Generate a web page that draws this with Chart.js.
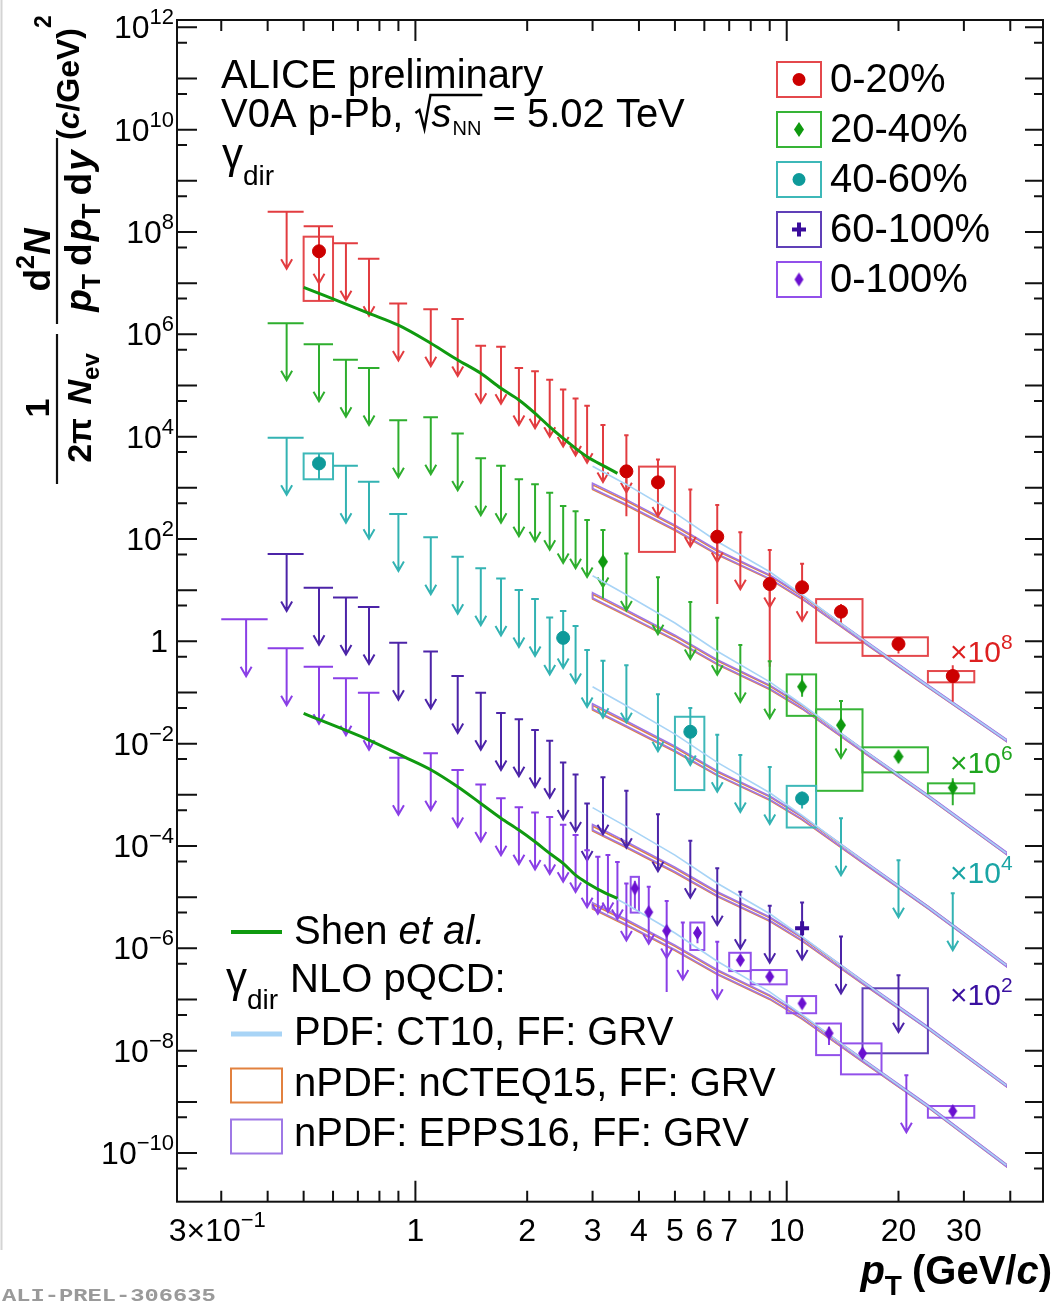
<!DOCTYPE html>
<html>
<head>
<meta charset="utf-8">
<title>ALICE preliminary - direct photon spectra, p-Pb 5.02 TeV</title>
<script src="https://cdn.jsdelivr.net/npm/chart.js@4.4.1/dist/chart.umd.min.js"></script>
<style>
html,body{margin:0;padding:0;background:#ffffff;}
canvas{display:block;}
</style>
</head>
<body>
<canvas id="c" width="1054" height="1307"></canvas>
<script>
// ================= DATA =================
// axis ranges and ticks
const xRange = [0.228, 49];
const yRange = [1.12e-11, 1.39e12];
const xMajorTicks = [1, 10];
const xMinorTicks = [0.3, 0.4, 0.5, 0.6, 0.7, 0.8, 0.9, 2, 3, 4, 5, 6, 7, 8, 9, 20, 30, 40];
const xTickLabelVals = [0.3, 1, 2, 3, 4, 5, 6, 7, 10, 20, 30];
const xTickLabels = ['3×10^−1', '1', '2', '3', '4', '5', '6', '7', '10', '20', '30'];
const yTickLabelExps = [12, 10, 8, 6, 4, 2, 0, -2, -4, -6, -8, -10];

const ulHalfWidth = 0.05; // x half-width of upper-limit caps (GeV/c)

// ---- 0-20% (x10^8) ----
const redUlPt  = [0.45, 0.55, 0.65, 0.75, 0.9, 1.1, 1.3, 1.5, 1.7, 1.9, 2.1, 2.3, 2.5, 2.7, 2.9, 3.2, 3.7, 4.5, 5.5, 6.5, 7.5, 9, 11];
const redUlVal = [2.5e8, 1.3e8, 6.0e7, 3.0e7, 4.0e6, 3.1e6, 2.0e6, 6.0e5, 5.7e5, 2.2e5, 1.9e5, 1.3e5, 8.4e4, 5.6e4, 4.0e4, 1.7e4, 1.07e4, 3.6e3, 930, 460, 135, 61, 33];
const redPt     = [0.55, 3.7, 4.5, 6.5, 9, 11, 14, 20, 28];
const redY      = [4.2e7, 2.1e3, 1.28e3, 111, 13.2, 11.4, 3.8, 0.89, 0.21];
const redStatLo = [4.5e6, 280, null, 5.4, 0.32, null, 2.3, 0.58, 0.066];
const redStatHi = [null, null, null, null, null, null, 5.4, 0.95, 0.34];
const redSysLo  = [4.5e6, null, 56, null, null, null, 0.94, 0.52, 0.158];
const redSysHi  = [8.1e7, null, 2.6e3, null, null, null, 6.7, 1.2, 0.263];
const redBinLo  = [0.5, null, 4, null, null, null, 12, 16, 24];
const redBinHi  = [0.6, null, 5, null, null, null, 16, 24, 32];

// ---- 20-40% (x10^6) ----
const greenUlPt  = [0.45, 0.55, 0.65, 0.75, 0.9, 1.1, 1.3, 1.5, 1.7, 1.9, 2.1, 2.3, 2.5, 2.7, 2.9, 3.2, 3.7, 4.5, 5.5, 6.5, 7.5, 9, 14];
const greenUlVal = [1.64e6, 6.4e5, 3.2e5, 2.2e5, 2.1e4, 2.4e4, 1.16e4, 3.8e3, 2.7e3, 1.47e3, 1.17e3, 800, 440, 350, 235, 150, 52, 17.8, 5.9, 2.9, 0.85, 0.41, 0.068];
const greenPt     = [3.2, 11, 14, 20, 28];
const greenY      = [36, 0.13, 0.023, 5.6e-3, 1.38e-3];
const greenStatLo = [6.9, 0.083, null, 4.6e-3, 6.3e-4];
const greenStatHi = [null, 0.22, null, 6.8e-3, 2.1e-3];
const greenSysLo  = [null, 0.035, 1.2e-3, 2.75e-3, 1.07e-3];
const greenSysHi  = [null, 0.226, 0.047, 8.5e-3, 1.68e-3];
const greenBinLo  = [null, 10, 12, 16, 24];
const greenBinHi  = [null, 12, 16, 24, 32];

// ---- 40-60% (x10^4) ----
const tealUlPt  = [0.45, 0.65, 0.75, 0.9, 1.1, 1.3, 1.5, 1.7, 1.9, 2.1, 2.3, 2.5, 2.7, 2.9, 3.2, 3.7, 4.5, 5.5, 6.5, 7.5, 9, 14, 20, 28];
const tealUlVal = [9.5e3, 2.7e3, 1.31e3, 307, 108, 45, 26.7, 17, 10.1, 6.7, 2.94, 3.9, 1.99, 0.68, 0.42, 0.34, 0.093, 0.05, 0.015, 6.0e-3, 3.5e-3, 3.5e-4, 5.3e-5, 1.19e-5];
const tealPt     = [0.55, 2.5, 5.5, 11];
const tealY      = [3.0e3, 1.17, 0.0171, 8.5e-4];
const tealStatLo = [1.47e3, null, null, 5.4e-4];
const tealStatHi = [4.7e3, null, null, 1.15e-3];
const tealSysLo  = [1.47e3, null, 1.24e-3, 2.3e-4];
const tealSysHi  = [4.7e3, null, 0.0336, 1.5e-3];
const tealBinLo  = [0.5, null, 5, 10];
const tealBinHi  = [0.6, null, 6, 12];

// ---- 60-100% (x10^2) ----
const dpUlPt  = [0.45, 0.55, 0.65, 0.75, 0.9, 1.1, 1.3, 1.5, 1.7, 1.9, 2.1, 2.3, 2.5, 2.7, 2.9, 3.2, 3.7, 4.5, 5.5, 6.5, 7.5, 9, 11, 14, 20];
const dpUlVal = [51, 11.2, 7.2, 4.7, 0.94, 0.63, 0.21, 0.099, 0.040, 0.030, 0.0185, 0.0114, 4.3e-3, 2.5e-3, 6.8e-4, 2.2e-3, 1.2e-3, 4.2e-4, 1.27e-4, 3.7e-5, 1.28e-5, 6.8e-6, 7.9e-6, 1.7e-6, 3.0e-7];
const dpPt     = [11, 20];
const dpY      = [2.46e-6, null];
const dpStatLo = [null, null];
const dpStatHi = [null, null];
const dpSysLo  = [null, 8.9e-9];
const dpSysHi  = [null, 1.66e-7];
const dpBinLo  = [null, 16];
const dpBinHi  = [null, 24];

// ---- 0-100% (x1) ----
const vioUlPt  = [0.35, 0.45, 0.55, 0.65, 0.75, 0.9, 1.1, 1.3, 1.5, 1.7, 1.9, 2.1, 2.3, 2.5, 2.7, 2.9, 3.1, 3.3, 3.5, 3.7, 4.25, 4.75, 5.25, 6.5, 21];
const vioUlVal = [2.7, 0.73, 0.32, 0.19, 0.099, 5.3e-3, 6.5e-3, 3.05e-3, 1.6e-3, 8.6e-4, 5.7e-4, 4.5e-4, 3.7e-4, 2.6e-4, 1.64e-4, 8.3e-5, 6.2e-5, 6.7e-5, 4.9e-5, 1.86e-5, 1.6e-5, 8.4e-6, 3.2e-6, 1.35e-6, 3.3e-9];
const vioPt     = [3.9, 4.25, 4.75, 5.75, 7.5, 9, 11, 13, 16, 28];
const vioY      = [1.49e-5, 5.1e-6, 2.2e-6, 2.0e-6, 5.9e-7, 2.8e-7, 8.4e-8, 2.2e-8, 8.9e-9, 6.6e-10];
const vioStatLo = [5.6e-6, null, 1.4e-7, 1.26e-6, null, null, null, 1.29e-8, null, null];
const vioStatHi = [2.1e-5, null, null, 2.64e-6, null, null, null, 2.93e-8, null, null];
const vioSysLo  = [5.0e-6, null, null, 9.3e-7, 3.6e-7, 1.98e-7, 5.4e-8, 8.2e-9, 3.45e-9, 4.9e-10];
const vioSysHi  = [2.5e-5, null, null, 3.2e-6, 8.2e-7, 3.77e-7, 1.17e-7, 3.4e-8, 1.39e-8, 8.3e-10];
const vioBinLo  = [3.8, null, null, 5.5, 7, 8, 10, 12, 14, 24];
const vioBinHi  = [4.0, null, null, 6.0, 8, 10, 12, 14, 18, 32];

// ---- Shen et al. ----
const shenPtA = [0.5, 0.75, 0.9, 1.1, 1.3, 1.5, 1.7, 1.9, 2.1, 2.3, 2.5, 2.7, 2.9, 3.25, 3.5];
const shenYA  = [8.3e6, 2.57e6, 1.51e6, 6.7e5, 3.16e5, 1.73e5, 8.8e4, 5.2e4, 2.86e4, 1.56e4, 9.3e3, 5.9e3, 4.06e3, 2.57e3, 1.92e3];
const shenPtB = [0.5, 0.75, 0.93, 1.1, 1.3, 1.5, 1.7, 1.9, 2.1, 2.3, 2.5, 2.7, 2.9, 3.25, 3.5];
const shenYB  = [0.039, 0.0118, 5.6e-3, 3.1e-3, 1.44e-3, 6.8e-4, 3.5e-4, 2.05e-4, 1.21e-4, 7.2e-5, 4.6e-5, 2.7e-5, 1.9e-5, 1.2e-5, 9.5e-6];

// ---- NLO pQCD (EPPS16 central values per class, nCTEQ15 / CT10 relative to it) ----
const bandPt = [3, 3.7, 5, 6.5, 9, 11, 16, 24, 39];
const epps0_20   = [1.1e3, 5.3e2, 1.7e2, 56, 18.3, 7.4, 1.06, 0.134, 0.0117];
const epps20_40  = [8.0, 3.7, 1.2, 0.40, 0.129, 0.053, 7.5e-3, 9.5e-4, 7.3e-5];
const epps40_60  = [0.054, 0.025, 8.1e-3, 2.7e-3, 8.8e-4, 3.6e-4, 5.1e-5, 6.4e-6, 4.7e-7];
const epps60_100 = [2.35e-4, 1.09e-4, 3.5e-5, 1.17e-5, 3.8e-6, 1.54e-6, 2.2e-7, 2.8e-8, 2.1e-9];
const epps0_100  = [7.0e-6, 3.3e-6, 1.05e-6, 3.5e-7, 1.13e-7, 4.6e-8, 6.6e-9, 8.3e-10, 5.8e-11];
const eppsUp = [1.12, 1.11, 1.10, 1.09, 1.08, 1.07, 1.06, 1.05, 1.05];
const eppsDn = [0.88, 0.89, 0.90, 0.91, 0.92, 0.93, 0.94, 0.95, 0.95];
const nctUp  = [1.04, 1.04, 1.04, 1.04, 1.04, 1.03, 1.03, 1.03, 1.03];
const nctDn  = [0.84, 0.85, 0.86, 0.88, 0.89, 0.90, 0.92, 0.94, 0.95];
const ct10Ratio = [2.4, 2.2, 1.9, 1.6, 1.25, 1.1, 1.03, 1.0, 1.0];

const legendNames = ['0-20%', '20-40%', '40-60%', '60-100%', '0-100%'];
const scaleNotes = ['8', '6', '4', '2'];

// ================= STYLE / BUILD =================
const FF = '"Liberation Sans", Arial, Helvetica, sans-serif';
function F(size, style) { return (style ? style + ' ' : '') + size + 'px ' + FF; }

function diamondImg(w, h, color) {
  const c = document.createElement('canvas');
  c.width = w + 2; c.height = h + 2;
  const g = c.getContext('2d');
  g.fillStyle = color;
  g.beginPath();
  g.moveTo((w + 2) / 2, 1); g.lineTo(w + 1, (h + 2) / 2);
  g.lineTo((w + 2) / 2, h + 1); g.lineTo(1, (h + 2) / 2);
  g.closePath(); g.fill();
  return c;
}

const series = [
  { ulPt: redUlPt, ulVal: redUlVal, pt: redPt, y: redY, sLo: redStatLo, sHi: redStatHi, bLo: redSysLo, bHi: redSysHi, xLo: redBinLo, xHi: redBinHi, epps: epps0_20,
    line: '#e23c40', box: '#e4484c', marker: '#cc0000', style: 'circle', note: '#dd2020' },
  { ulPt: greenUlPt, ulVal: greenUlVal, pt: greenPt, y: greenY, sLo: greenStatLo, sHi: greenStatHi, bLo: greenSysLo, bHi: greenSysHi, xLo: greenBinLo, xHi: greenBinHi, epps: epps20_40,
    line: '#2eae2e', box: '#36b436', marker: '#0f990f', style: diamondImg(10, 15, '#0f990f'), note: '#1fa51f' },
  { ulPt: tealUlPt, ulVal: tealUlVal, pt: tealPt, y: tealY, sLo: tealStatLo, sHi: tealStatHi, bLo: tealSysLo, bHi: tealSysHi, xLo: tealBinLo, xHi: tealBinHi, epps: epps40_60,
    line: '#33b3b3', box: '#3db8b8', marker: '#0e9a9a', style: 'circle', note: '#1aa5a5' },
  { ulPt: dpUlPt, ulVal: dpUlVal, pt: dpPt, y: dpY, sLo: dpStatLo, sHi: dpStatHi, bLo: dpSysLo, bHi: dpSysHi, xLo: dpBinLo, xHi: dpBinHi, epps: epps60_100,
    line: '#4c24a8', box: '#6040b8', marker: '#3a0c9c', style: 'cross', note: '#3a10a0' },
  { ulPt: vioUlPt, ulVal: vioUlVal, pt: vioPt, y: vioY, sLo: vioStatLo, sHi: vioStatHi, bLo: vioSysLo, bHi: vioSysHi, xLo: vioBinLo, xHi: vioBinHi, epps: epps0_100,
    line: '#8a3fe6', box: '#9250ea', marker: '#6a10d0', style: diamondImg(9, 14, '#6a10d0'), note: '#6a10d0' }
];

const pts = (xs, ys) => xs.map((x, i) => ({ x: x, y: ys[i] })).filter(p => p.y != null);

const datasets = [];
series.forEach(s => {
  const ds = { data: pts(s.pt, s.y), showLine: false, pointStyle: s.style, pointRadius: 6.5,
    pointBackgroundColor: s.marker, pointBorderColor: s.marker, pointBorderWidth: 1, order: 0 };
  if (s.style === 'cross') { ds.pointRadius = 7; ds.pointBorderWidth = 4; }
  datasets.push(ds);
});
datasets.push({ data: pts(shenPtA, shenYA), showLine: true, pointRadius: 0, borderColor: '#109a10', borderWidth: 3, cubicInterpolationMode: 'monotone', order: 2 });
datasets.push({ data: pts(shenPtB, shenYB), showLine: true, pointRadius: 0, borderColor: '#109a10', borderWidth: 3, cubicInterpolationMode: 'monotone', order: 2 });
series.forEach(s => {
  datasets.push({ data: pts(bandPt, s.epps.map((v, i) => v * ct10Ratio[i])), showLine: true, pointRadius: 0,
    borderColor: '#a8d4f6', borderWidth: 1.6, order: 3 });
});

function richText(ctx, parts, x, y, align) {
  let w = 0;
  parts.forEach(p => { ctx.font = p.f; p._w = ctx.measureText(p.t).width + (p.sp || 0); w += p._w; });
  let cx = align === 'right' ? x - w : (align === 'center' ? x - w / 2 : x);
  parts.forEach(p => { ctx.font = p.f; ctx.fillText(p.t, cx, y + (p.dy || 0)); cx += p._w; });
  return w;
}

function drawMarker(ctx, s, x, y) {
  ctx.save();
  ctx.fillStyle = s.marker; ctx.strokeStyle = s.marker;
  if (s.style === 'circle') { ctx.beginPath(); ctx.arc(x, y, 6.5, 0, Math.PI * 2); ctx.fill(); }
  else if (s.style === 'cross') { ctx.lineWidth = 4; ctx.beginPath(); ctx.moveTo(x - 7, y); ctx.lineTo(x + 7, y); ctx.moveTo(x, y - 7); ctx.lineTo(x, y + 7); ctx.stroke(); }
  else { ctx.drawImage(s.style, x - s.style.width / 2, y - s.style.height / 2); }
  ctx.restore();
}

const arrowLen = 57;

const rootPlugin = {
  id: 'rootStyle',
  beforeDatasetsDraw(chart) {
    const ctx = chart.ctx, a = chart.chartArea;
    const X = v => chart.scales.x.getPixelForValue(v);
    const Y = v => chart.scales.y.getPixelForValue(v);
    ctx.save();
    ctx.beginPath(); ctx.rect(a.left, a.top, a.right - a.left, a.bottom - a.top); ctx.clip();
    ctx.lineJoin = 'miter';
    // NLO pQCD bands
    const band = (center, up, dn, color) => {
      ctx.strokeStyle = color; ctx.lineWidth = 1.6;
      ctx.beginPath();
      bandPt.forEach((p, i) => { const yy = Y(center[i] * up[i]); if (i === 0) ctx.moveTo(X(p), yy); else ctx.lineTo(X(p), yy); });
      for (let i = bandPt.length - 1; i >= 0; i--) ctx.lineTo(X(bandPt[i]), Y(center[i] * dn[i]));
      ctx.closePath(); ctx.stroke();
    };
    series.forEach(s => {
      band(s.epps, nctUp, nctDn, '#e2813f');
      band(s.epps, eppsUp, eppsDn, '#9f78e6');
    });
    // data decorations
    series.forEach(s => {
      ctx.lineWidth = 2;
      ctx.strokeStyle = s.box;
      s.pt.forEach((p, i) => {
        if (s.xLo[i] == null) return;
        const x1 = X(s.xLo[i]), x2 = X(s.xHi[i]), y1 = Y(s.bHi[i]), y2 = Y(s.bLo[i]);
        ctx.strokeRect(x1, y1, x2 - x1, y2 - y1);
      });
      ctx.strokeStyle = s.line;
      s.pt.forEach((p, i) => {
        if (s.y[i] == null) return;
        const x = X(p), y0 = Y(s.y[i]);
        ctx.beginPath();
        if (s.sLo[i] != null) { ctx.moveTo(x, y0); ctx.lineTo(x, Y(s.sLo[i])); }
        if (s.sHi[i] != null) { ctx.moveTo(x, y0); ctx.lineTo(x, Y(s.sHi[i])); }
        ctx.stroke();
      });
      s.ulPt.forEach((p, i) => {
        const x = X(p), y = Y(s.ulVal[i]);
        const xl = Math.min(X(p - ulHalfWidth), x - 2), xr = Math.max(X(p + ulHalfWidth), x + 2);
        const tip = y + arrowLen;
        ctx.beginPath();
        ctx.moveTo(xl, y); ctx.lineTo(xr, y);
        ctx.moveTo(x, y); ctx.lineTo(x, tip);
        ctx.moveTo(x - 5.5, tip - 9.5); ctx.lineTo(x, tip); ctx.lineTo(x + 5.5, tip - 9.5);
        ctx.stroke();
      });
    });
    ctx.restore();
  },
  afterDraw(chart) {
    const ctx = chart.ctx, a = chart.chartArea;
    const X = v => chart.scales.x.getPixelForValue(v);
    const Y = v => chart.scales.y.getPixelForValue(v);
    ctx.save();
    // page border line at left
    ctx.strokeStyle = '#d4d4d4'; ctx.lineWidth = 2;
    ctx.beginPath(); ctx.moveTo(1.5, 0); ctx.lineTo(1.5, 1250); ctx.stroke();
    // frame
    ctx.strokeStyle = '#111'; ctx.lineWidth = 2;
    ctx.strokeRect(a.left, a.top, a.right - a.left, a.bottom - a.top);
    // y ticks
    ctx.lineWidth = 2;
    ctx.beginPath();
    for (let e = -12; e <= 12; e++) {
      const maj = Math.pow(10, e), mn = 5 * Math.pow(10, e);
      if (maj > yRange[0] && maj < yRange[1]) {
        const y = Y(maj);
        ctx.moveTo(a.left, y); ctx.lineTo(a.left + 20, y);
        ctx.moveTo(a.right, y); ctx.lineTo(a.right - 18, y);
      }
      if (mn > yRange[0] && mn < yRange[1]) {
        const y = Y(mn);
        ctx.moveTo(a.left, y); ctx.lineTo(a.left + 10, y);
        ctx.moveTo(a.right, y); ctx.lineTo(a.right - 9, y);
      }
    }
    // x ticks
    xMajorTicks.forEach(v => { const x = X(v); ctx.moveTo(x, a.bottom); ctx.lineTo(x, a.bottom - 21); ctx.moveTo(x, a.top); ctx.lineTo(x, a.top + 21); });
    xMinorTicks.forEach(v => { const x = X(v); ctx.moveTo(x, a.bottom); ctx.lineTo(x, a.bottom - 11); ctx.moveTo(x, a.top); ctx.lineTo(x, a.top + 11); });
    ctx.stroke();

    ctx.fillStyle = '#000';
    ctx.textBaseline = 'alphabetic';
    // y tick labels
    yTickLabelExps.forEach(e => {
      const y = Y(Math.pow(10, e));
      if (e === 0) richText(ctx, [{ t: '1', f: F(32) }], 168, y + 11, 'right');
      else richText(ctx, [{ t: '10', f: F(32) }, { t: (e < 0 ? '−' : '') + Math.abs(e), f: F(22), dy: -14 }], 174, y + 11, 'right');
    });
    // x tick labels
    xTickLabelVals.forEach((v, i) => {
      const lab = xTickLabels[i];
      const parts = lab.split('^');
      const segs = [{ t: parts[0], f: F(32) }];
      if (parts[1]) segs.push({ t: parts[1], f: F(22), dy: -14 });
      richText(ctx, segs, X(v) + (parts[1] ? -4 : 0), 1241, 'center');
    });
    // x title
    richText(ctx, [{ t: 'p', f: F(40, 'italic bold') }, { t: 'T', f: F(28, 'bold'), dy: 11, sp: 10 },
      { t: '(GeV/', f: F(40, 'bold') }, { t: 'c', f: F(40, 'italic bold') }, { t: ')', f: F(40, 'bold') }], 1052, 1284, 'right');

    // y title (rotated)
    ctx.save();
    ctx.rotate(-Math.PI / 2);
    const B = F(34, 'bold'), BI = F(34, 'italic bold'), Bs = F(24, 'bold');
    const B2 = F(37, 'bold'), BI2 = F(37, 'italic bold'), Bs2 = F(25, 'bold');
    richText(ctx, [{ t: '1', f: B }], -408, 49, 'center');
    ctx.lineWidth = 2.2;
    ctx.beginPath(); ctx.moveTo(-484, 57); ctx.lineTo(-334, 57); ctx.stroke();
    richText(ctx, [{ t: '2π ', f: B, sp: 4 }, { t: 'N', f: BI }, { t: 'ev', f: Bs, dy: 8 }], -408, 91, 'center');
    richText(ctx, [{ t: 'd', f: B2 }, { t: '2', f: Bs2, dy: -16 }, { t: 'N', f: BI2 }], -260, 50, 'center');
    ctx.beginPath(); ctx.moveTo(-324, 57); ctx.lineTo(-138, 57); ctx.stroke();
    richText(ctx, [{ t: 'p', f: BI2 }, { t: 'T', f: Bs2, dy: 9, sp: 8 }, { t: 'd', f: B2, sp: 2 }, { t: 'p', f: BI2 }, { t: 'T', f: Bs2, dy: 9, sp: 8 },
      { t: 'd', f: B2, sp: 2 }, { t: 'y', f: BI2 }], -231, 91, 'center');
    richText(ctx, [{ t: '(', f: F(32, 'bold') }, { t: 'c', f: F(32, 'italic bold') }, { t: '/GeV)', f: F(32, 'bold') }, { t: '2', f: F(23, 'bold'), dy: -28 }], -140, 79, 'left');
    ctx.restore();

    // top-left texts
    ctx.fillStyle = '#000';
    richText(ctx, [{ t: 'ALICE preliminary', f: F(40) }], 221, 88, 'left');
    let x = 221;
    x += richText(ctx, [{ t: 'V0A p-Pb, ', f: F(40) }], x, 127, 'left');
    const rx = x;
    x += 17;
    ctx.font = F(40, 'italic');
    const sw = ctx.measureText('s').width;
    ctx.fillText('s', x, 127); x += sw + 1;
    ctx.font = F(20);
    const nw = ctx.measureText('NN').width;
    ctx.fillText('NN', x, 135); x += nw;
    ctx.strokeStyle = '#000'; ctx.lineWidth = 2.4;
    ctx.beginPath();
    ctx.moveTo(rx + 1, 113); ctx.lineTo(rx + 5, 110); ctx.lineTo(rx + 10, 129); ctx.lineTo(rx + 16, 95); ctx.lineTo(x + 1, 95);
    ctx.stroke();
    richText(ctx, [{ t: ' = 5.02 TeV', f: F(40) }], x, 127, 'left');
    richText(ctx, [{ t: 'γ', f: F(42) }, { t: 'dir', f: F(28), dy: 17 }], 222, 168, 'left');

    // right legend
    series.forEach((s, i) => {
      const by = 62 + 50 * i;
      ctx.strokeStyle = s.box; ctx.lineWidth = 2;
      ctx.strokeRect(777, by, 44, 35);
      drawMarker(ctx, s, 799, by + 17.5);
      ctx.fillStyle = '#000';
      richText(ctx, [{ t: legendNames[i], f: F(40) }], 830, by + 30, 'left');
    });

    // scale notes
    const noteY = [662, 773, 883, 1005];
    scaleNotes.forEach((n, i) => {
      ctx.fillStyle = series[i].note;
      richText(ctx, [{ t: '×10', f: F(30) }, { t: n, f: F(21), dy: -13 }], 950, noteY[i], 'left');
    });

    // bottom legend
    ctx.fillStyle = '#000';
    ctx.strokeStyle = '#109a10'; ctx.lineWidth = 4;
    ctx.beginPath(); ctx.moveTo(231, 932); ctx.lineTo(282, 932); ctx.stroke();
    richText(ctx, [{ t: 'Shen ', f: F(40) }, { t: 'et al.', f: F(40, 'italic') }], 294, 944, 'left');
    richText(ctx, [{ t: 'γ', f: F(42) }, { t: 'dir', f: F(28), dy: 17, sp: 12 }, { t: 'NLO pQCD:', f: F(40) }], 226, 992, 'left');
    ctx.strokeStyle = '#a8d4f6'; ctx.lineWidth = 5;
    ctx.beginPath(); ctx.moveTo(231, 1034); ctx.lineTo(282, 1034); ctx.stroke();
    richText(ctx, [{ t: 'PDF: CT10, FF: GRV', f: F(40) }], 294, 1045, 'left');
    ctx.strokeStyle = '#e2813f'; ctx.lineWidth = 2;
    ctx.strokeRect(231, 1068.5, 51, 34);
    richText(ctx, [{ t: 'nPDF: nCTEQ15, FF: GRV', f: F(40) }], 294, 1096, 'left');
    ctx.strokeStyle = '#9f78e6';
    ctx.strokeRect(231, 1119.5, 51, 34);
    richText(ctx, [{ t: 'nPDF: EPPS16, FF: GRV', f: F(40) }], 294, 1146, 'left');

    // figure id
    ctx.save();
    ctx.fillStyle = '#9a9a9a';
    ctx.translate(2, 1301);
    ctx.scale(1.32, 1);
    ctx.font = 'bold 18px "Liberation Mono", "DejaVu Sans Mono", monospace';
    ctx.fillText('ALI-PREL-306635', 0, 0);
    ctx.restore();

    ctx.restore();
  }
};

new Chart(document.getElementById('c'), {
  type: 'scatter',
  data: { datasets: datasets },
  options: {
    responsive: false,
    animation: false,
    devicePixelRatio: 1,
    events: [],
    layout: { padding: { left: 177, right: 4, top: 20, bottom: 105.3 } },
    plugins: { legend: { display: false }, tooltip: { enabled: false }, title: { display: false } },
    scales: {
      x: { type: 'logarithmic', min: xRange[0], max: xRange[1], bounds: 'data', display: false },
      y: { type: 'logarithmic', min: yRange[0], max: yRange[1], bounds: 'data', display: false }
    }
  },
  plugins: [rootPlugin]
});
</script>
</body>
</html>
